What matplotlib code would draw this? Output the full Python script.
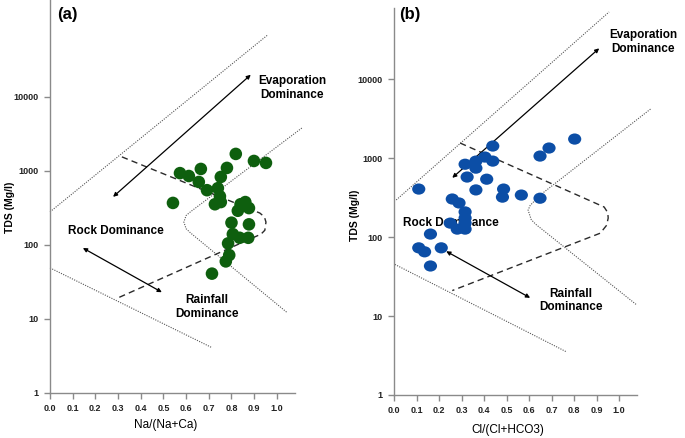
import matplotlib
matplotlib.use("Agg")
import matplotlib.pyplot as plt
from matplotlib.ticker import FixedLocator, NullLocator
from matplotlib.path import Path
from matplotlib.transforms import Affine2D

plt.rcParams['font.family'] = ['Liberation Sans', 'DejaVu Sans']

# ---------------- data ----------------
x_ticks = [0.0, 0.1, 0.2, 0.3, 0.4, 0.5, 0.6, 0.7, 0.8, 0.9, 1.0]
x_tick_labels = ["0.0", "0.1", "0.2", "0.3", "0.4", "0.5", "0.6", "0.7", "0.8", "0.9", "1.0"]
y_ticks = [1, 10, 100, 1000, 10000]
y_tick_labels = ["1", "10", "100", "1000", "10000"]

# Panel (a): Na/(Na+Ca) vs TDS
na_ratio = [0.819, 0.899, 0.952, 0.665, 0.573, 0.612, 0.656, 0.780, 0.753, 0.692,
            0.740, 0.542, 0.749, 0.727, 0.753, 0.840, 0.861, 0.877, 0.828, 0.800,
            0.877, 0.806, 0.836, 0.874, 0.785, 0.790, 0.775, 0.714]
tds_a = [1700, 1365, 1285, 1065, 935, 855, 710, 1100, 830, 550,
         585, 370, 455, 355, 380, 355, 380, 315, 290, 200,
         190, 140, 125, 125, 105, 73, 60, 41]

# Panel (b): Cl/(Cl+HCO3) vs TDS
cl_ratio = [0.803, 0.689, 0.649, 0.439, 0.404, 0.439, 0.364, 0.364, 0.316, 0.325,
            0.412, 0.110, 0.364, 0.487, 0.482, 0.566, 0.649, 0.259, 0.289, 0.316,
            0.316, 0.250, 0.316, 0.281, 0.316, 0.162, 0.110, 0.136, 0.210, 0.162]
tds_b = [1740, 1340, 1060, 1420, 1030, 915, 915, 745, 835, 575,
         540, 405, 395, 405, 320, 340, 310, 303, 270, 208,
         174, 150, 150, 126, 126, 109, 73, 65, 73, 43]

# Gibbs boundary lines (ratio, TDS)
a_upper_x = [0.0, 0.96];            a_upper_y = [280, 69000]
a_mid_x = [1.11, 0.62, 0.60, 0.59, 0.60, 0.62, 1.044]
a_mid_y = [3800, 282, 250, 204, 166, 145, 12.3]
a_lower_x = [0.0, 0.714];           a_lower_y = [49, 4.1]
a_dash_x = [0.317, 0.925, 0.945, 0.952, 0.947, 0.93, 0.295]
a_dash_y = [1550, 270, 240, 204, 158, 140, 19]

b_upper_x = [0.01, 0.956];          b_upper_y = [295, 70800]
b_mid_x = [1.14, 0.649, 0.605, 0.596, 0.61, 0.63, 1.079]
b_mid_y = [4170, 339, 251, 219, 166, 145, 13.8]
b_lower_x = [0.004, 0.768];         b_lower_y = [45, 3.5]
b_dash_x = [0.294, 0.934, 0.950, 0.952, 0.945, 0.917, 0.259]
b_dash_y = [1550, 240, 204, 174, 141, 112, 21]

# arrows ((x0, y0), (x1, y1))
a_evap_arrow = [(0.278, 447), (0.885, 19950)]
a_rock_arrow = [(0.145, 91), (0.493, 23)]
b_evap_arrow = [(0.259, 562), (0.912, 24500)]
b_rock_arrow = [(0.232, 66), (0.605, 17)]

# labels (x, y)
a_evap_pos = (1.066, 13200); a_rock_pos = (0.29, 155); a_rain_pos = (0.69, 14.5)
b_evap_pos = (1.108, 29500); b_rock_pos = (0.254, 151); b_rain_pos = (0.785, 15.8)

green = '#0e5f0e'
blue = '#0c4ea6'
spine_col = '#8a8a8a'

ellipse_marker = Path.unit_circle().transformed(Affine2D().scale(1.0, 0.85))

fig = plt.figure(figsize=(6.85, 4.38), dpi=100)
axA = fig.add_axes([50/685, 45/438, 245/685, 393/438])
axB = fig.add_axes([394/685, 43/438, 243/685, 387/438])


def style(ax, ytop):
    ax.set_yscale('log')
    ax.set_xlim(0, 1.08)
    ax.set_ylim(1, ytop)
    for s in ['top', 'right']:
        ax.spines[s].set_visible(False)
    for s in ['left', 'bottom']:
        ax.spines[s].set_color(spine_col)
        ax.spines[s].set_linewidth(1.0)
    ax.xaxis.set_major_locator(FixedLocator(x_ticks))
    ax.set_xticklabels(x_tick_labels, fontsize=6.5, fontweight='bold')
    ax.yaxis.set_major_locator(FixedLocator(y_ticks))
    ax.yaxis.set_minor_locator(NullLocator())
    ax.set_yticklabels(y_tick_labels, fontsize=6.5, fontweight='bold')
    ax.tick_params(axis='both', colors=spine_col, length=4, width=1, labelcolor='#222222', pad=4)
    ax.set_facecolor('none')


def lines(ax, up, mid, low, dash):
    kw_dot = dict(color='#555555', lw=0.8, linestyle=(0, (1, 1.2)), clip_on=False)
    ax.plot(up[0], up[1], **kw_dot)
    ax.plot(mid[0], mid[1], **kw_dot)
    ax.plot(low[0], low[1], **kw_dot)
    ax.plot(dash[0], dash[1], color='#2a2a2a', lw=1.0, linestyle=(0, (4.5, 3)), clip_on=False)


def arrow(ax, pts):
    ax.annotate('', xy=pts[1], xytext=pts[0],
                arrowprops=dict(arrowstyle='<|-|>', color='black', lw=0.9,
                                mutation_scale=6, shrinkA=0, shrinkB=0),
                annotation_clip=False)


style(axA, 10 ** 5.31)
style(axB, 10 ** 4.9)

lines(axA, (a_upper_x, a_upper_y), (a_mid_x, a_mid_y), (a_lower_x, a_lower_y), (a_dash_x, a_dash_y))
lines(axB, (b_upper_x, b_upper_y), (b_mid_x, b_mid_y), (b_lower_x, b_lower_y), (b_dash_x, b_dash_y))

arrow(axA, a_evap_arrow); arrow(axA, a_rock_arrow)
arrow(axB, b_evap_arrow); arrow(axB, b_rock_arrow)

tkw = dict(fontsize=8.5, fontweight='bold', ha='center', va='center', linespacing=1.15, zorder=3)
axA.text(*a_evap_pos, 'Evaporation\nDominance', clip_on=False, **tkw)
axA.text(*a_rock_pos, 'Rock Dominance', **tkw)
axA.text(*a_rain_pos, 'Rainfall\nDominance', **tkw)
axB.text(*b_evap_pos, 'Evaporation\nDominance', clip_on=False, **tkw)
axB.text(*b_rock_pos, 'Rock Dominance', **tkw)
axB.text(*b_rain_pos, 'Rainfall\nDominance', **tkw)

axA.scatter(na_ratio, tds_a, s=82, color=green, edgecolors='none', zorder=5, clip_on=False)
axB.scatter(cl_ratio, tds_b, s=90, marker=ellipse_marker, color=blue, edgecolors='none',
            zorder=5, clip_on=False)

fig.text(67/685, 1 - 14/438, '(a)', fontsize=12, fontweight='bold', ha='center', va='center')
fig.text(410/685, 1 - 15/438, '(b)', fontsize=12, fontweight='bold', ha='center', va='center')

fig.text(10/685, 1 - 207/438, 'TDS (Mg/l)', rotation=90, fontsize=7.5, fontweight='bold', ha='center', va='center')
fig.text(355/685, 1 - 215/438, 'TDS (Mg/l)', rotation=90, fontsize=7.5, fontweight='bold', ha='center', va='center')
fig.text(166/685, 1 - 425/438, 'Na/(Na+Ca)', fontsize=8.5, ha='center', va='center')
fig.text(508/685, 1 - 430/438, 'Cl/(Cl+HCO3)', fontsize=8.5, ha='center', va='center')

fig.savefig('out.png', dpi=100)
